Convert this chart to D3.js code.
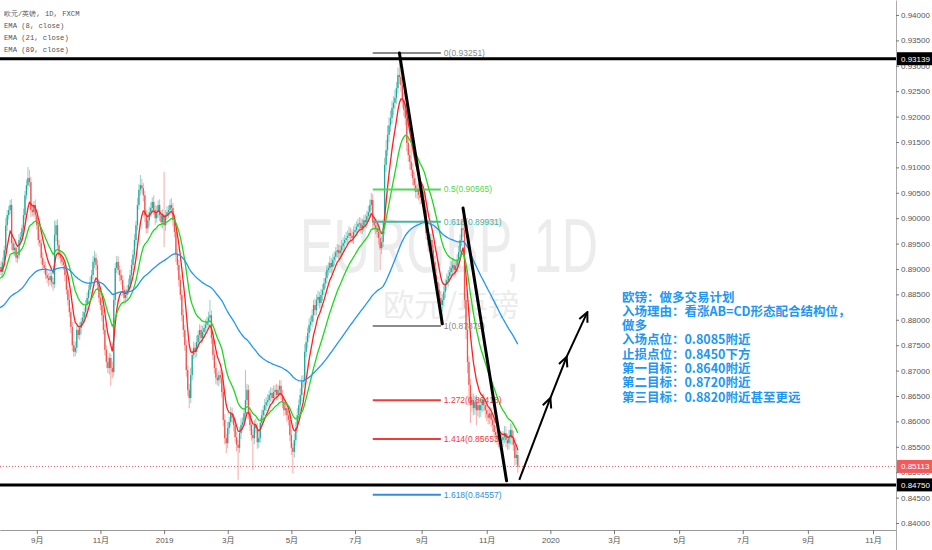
<!DOCTYPE html>
<html><head><meta charset="utf-8">
<script src="https://cdn.jsdelivr.net/npm/d3@7"></script>
<style>body{margin:0;background:#fff;}svg{display:block;}</style>
</head><body>
<svg id="c" width="932" height="550"></svg>
<script>
// ---------------- DATA ----------------
const startDate = "2018-07-30";
const firstOpen = 0.8898;
const closes = [
0.8904,0.8894,0.8913,0.8937,0.8986,0.9006,0.9016,0.9026,0.8951,0.8937,
0.8942,0.8922,0.8927,0.8957,0.8963,0.8980,0.9006,0.9045,0.9065,0.9079,
0.9071,0.9016,0.9012,0.9026,0.9006,0.8986,0.8957,0.8951,0.8922,0.8908,
0.8902,0.8888,0.8882,0.8878,0.8886,0.8874,0.8870,0.8967,0.8986,0.8947,
0.8928,0.8922,0.8914,0.8908,0.8888,0.8859,0.8839,0.8815,0.8786,0.8750,
0.8737,0.8745,0.8780,0.8770,0.8784,0.8796,0.8804,0.8815,0.8829,0.8843,
0.8859,0.8874,0.8888,0.8914,0.8922,0.8908,0.8869,0.8843,0.8829,0.8809,
0.8780,0.8741,0.8717,0.8705,0.8725,0.8705,0.8697,0.8839,0.8902,0.8914,
0.8898,0.8888,0.8878,0.8859,0.8843,0.8849,0.8859,0.8869,0.8888,0.8908,
0.8928,0.8957,0.8986,0.9026,0.9056,0.9065,0.9059,0.9045,0.9006,0.8980,
0.8996,0.9012,0.9020,0.9032,0.9016,0.9000,0.9012,0.9026,0.9006,0.8992,
0.9006,0.8986,0.9006,0.9012,0.9016,0.9026,0.9020,0.8996,0.8973,0.8928,
0.8908,0.8878,0.8849,0.8809,0.8780,0.8750,0.8701,0.8662,0.8646,0.8691,
0.8731,0.8745,0.8737,0.8756,0.8770,0.8780,0.8764,0.8776,0.8784,0.8790,
0.8796,0.8804,0.8809,0.8764,0.8731,0.8705,0.8686,0.8681,0.8691,0.8686,
0.8658,0.8603,0.8567,0.8557,0.8587,0.8599,0.8616,0.8607,0.8593,0.8569,
0.8554,0.8548,0.8577,0.8593,0.8599,0.8616,0.8642,0.8662,0.8618,0.8593,
0.8573,0.8567,0.8593,0.8587,0.8559,0.8567,0.8597,0.8612,0.8622,0.8632,
0.8638,0.8642,0.8652,0.8656,0.8646,0.8658,0.8662,0.8652,0.8662,0.8670,
0.8652,0.8638,0.8622,0.8626,0.8612,0.8603,0.8573,0.8548,0.8540,0.8563,
0.8587,0.8612,0.8632,0.8652,0.8678,0.8681,0.8737,0.8756,0.8774,0.8790,
0.8796,0.8809,0.8829,0.8819,0.8839,0.8845,0.8833,0.8849,0.8859,0.8872,
0.8882,0.8898,0.8902,0.8912,0.8904,0.8918,0.8924,0.8933,0.8937,0.8931,
0.8937,0.8945,0.8951,0.8957,0.8961,0.8965,0.8971,0.8965,0.8961,0.8973,
0.8977,0.8983,0.8989,0.8990,0.8980,0.8986,0.8996,0.8992,0.9004,0.9012,
0.9026,0.9036,0.8992,0.8986,0.8980,0.8973,0.8961,0.8941,0.8953,0.8980,
0.9105,0.9134,0.9164,0.9183,0.9197,0.9217,0.9227,0.9237,0.9256,0.9282,
0.9278,0.9262,0.9233,0.9213,0.9197,0.9148,0.9124,0.9111,0.9095,0.9079,
0.9065,0.9052,0.9056,0.9046,0.9040,0.9052,0.9036,0.9016,0.8971,0.8957,
0.8947,0.8957,0.8937,0.8914,0.8888,0.8874,0.8859,0.8843,0.8829,0.8839,
0.8855,0.8869,0.8878,0.8886,0.8894,0.8902,0.8908,0.8898,0.8906,0.8918,
0.8933,0.8957,0.8980,0.8977,0.8839,0.8780,0.8717,0.8672,0.8632,0.8642,
0.8626,0.8638,0.8622,0.8632,0.8622,0.8632,0.8642,0.8632,0.8622,0.8614,
0.8607,0.8616,0.8603,0.8593,0.8579,0.8573,0.8567,0.8563,0.8557,0.8563,
0.8569,0.8577,0.8563,0.8557,0.8569,0.8583,0.8567,0.8554,0.8528,0.8534,0.8511
];
const upperWickPips = [
8,12,10,9,14,10,8,10,12,7, 9,11,8,12,10,7,13,9,11,22, 16,10,12,8,11,9,10,12,8,11,
9,12,8,10,11,7,9,28,10,12, 10,8,12,9,11,10,8,12,9,10, 8,12,10,9,11,8,12,9,10,11,
9,11,10,12,14,9,10,8,12,10, 10,12,9,11,10,8,12,14,10,12, 11,9,12,10,8,11,9,12,10,11,
10,12,9,14,11,20,12,10,9,11, 12,10,11,9,13,10,12,9,11,10, 11,85,10,12,9,11,13,10,12,9,
12,10,11,9,12,10,11,9,12,15, 11,12,10,13,9,11,10,12,9,11, 10,12,30,9,11,10,12,10,9,11,
12,10,11,9,12,10,13,11,9,12, 11,10,12,13,9,11,59,12,10,11, 12,11,10,13,9,12,10,11,9,12,
10,12,9,11,10,13,9,12,10,11, 11,10,12,9,11,10,12,11,9,13, 12,14,11,13,12,10,15,12,11,13,
11,12,10,13,11,12,10,12,11,10, 12,10,11,13,10,12,11,10,12,11, 10,12,11,10,12,11,13,10,12,11,
12,11,10,12,11,13,10,12,11,12, 11,14,12,10,12,11,10,12,11,13, 14,20,18,16,15,14,13,16,12,14,
43,14,12,15,13,11,14,12,53,13, 12,14,11,13,12,14,11,13,12,14, 14,12,13,11,12,13,11,12,14,12,
12,11,13,12,11,13,12,10,12,11, 12,11,13,25,14,12,13,11,12,13, 13,12,14,11,13,12,11,13,12,14,
12,13,11,12,14,12,13,11,12,13, 12,14,13,12,15,13,12,14,13,12,11
];
const lowerWickPips = [
10,8,12,9,7,11,9,8,14,10, 12,9,10,8,11,9,7,10,8,9, 9,14,8,10,12,9,11,8,13,10,
11,8,10,12,9,10,13,8,12,9, 9,11,8,10,12,9,11,10,13,12, 10,9,11,8,10,12,9,11,8,10,
11,8,10,9,12,10,11,9,10,12, 9,11,12,10,13,35,12,9,11,10, 10,12,9,11,13,10,12,9,10,11,
11,9,12,10,9,11,10,12,14,10, 10,12,9,11,10,13,9,11,12,10, 12,43,11,9,12,10,11,12,10,14,
11,13,10,12,14,11,13,12,20,10, 10,9,12,10,11,13,10,9,12,10, 11,9,10,12,10,11,13,10,12,11,
11,13,12,19,10,12,9,11,13,10, 13,63,10,12,11,9,12,10,13,12, 11,63,12,10,13,11,9,12,10,11,
12,10,11,13,9,11,12,10,11,12, 10,12,11,10,13,11,12,14,42,11, 11,10,12,11,13,12,10,11,12,10,
12,10,13,11,10,12,11,10,12,11, 10,12,11,10,13,11,12,10,11,12, 11,10,12,11,10,12,11,13,10,12,
10,12,11,13,10,11,12,10,12,11, 12,11,13,10,12,11,13,43,12,10, 12,14,12,15,13,12,14,13,12,11,
14,13,15,12,14,16,13,15,12,14, 13,12,14,11,13,12,14,12,13,11, 12,13,11,14,12,13,15,12,41,13,
13,12,11,13,12,11,12,13,11,12, 11,13,12,14,16,18,22,40,35,14, 14,13,30,12,15,13,14,12,15,13,
13,12,14,13,12,15,13,14,12,13, 13,12,14,13,12,14,13,12,16,13,12
];
const emaPeriods = [8, 21, 89];
const emaSeeds = [0.8895, 0.8880, 0.8822];
const priceTicks = [0.840,0.845,0.850,0.855,0.860,0.865,0.870,0.875,0.880,0.885,0.890,0.895,0.900,0.905,0.910,0.915,0.920,0.925,0.930,0.935,0.940];
const monthTicks = ["2018-09","2018-11","2019-01","2019-03","2019-05","2019-07","2019-09","2019-11","2020-01","2020-03","2020-05","2020-07","2020-09","2020-11"];
const monthTickLabels = ["9月","11月","2019","3月","5月","7月","9月","11月","2020","3月","5月","7月","9月","11月"];
const keyLevels = [0.93139, 0.84750];
const lastPrice = 0.85113;
const fibLevels = ["0","0.5","0.618","1","1.272","1.414","1.618"];
const fibPrices = [0.93251,0.90565,0.89931,0.87879,0.86418,0.85653,0.84557];
const fibBars = [252, 298];
const trendLines = [[[270,0.9325],[299,0.8792]], [[313,0.9020],[342.4,0.8483]]];
const arrowPath = [[351,0.8485],[372,0.8646],[383,0.8727],[397,0.8815]];
const legendLines = ["欧元/英镑, 1D, FXCM","EMA (8, close)","EMA (21, close)","EMA (89, close)"];
const planLines = ["欧镑：做多交易计划","入场理由：看涨AB=CD形态配合结构位，","做多","入场点位：0.8085附近","止损点位：0.8450下方","第一目标：0.8640附近","第二目标：0.8720附近","第三目标：0.8820附近甚至更远"];
const planAnchor = [420.4, 0.88360];
const totalBars = 606;

// ---------------- STYLE ----------------
const W = 932, H = 550, plotR = 896, plotB = 530;
const upCol = "#26a69a", dnCol = "#ef5350";
const emaCols = ["#ff2020", "#1ed81e", "#2196f3"];
const fibCols = ["#8a8a8a","#55d455","#48b4a4","#8a8a8a","#f23a3a","#f23a3a","#2d8fe0"];

const svg = d3.select("#c");
const x = d3.scaleLinear().domain([0, 605.54]).range([-0.2, plotR]);
const y = d3.scaleLinear().domain([0.83862, 0.94295]).range([plotB, 0]);

// dates of bars (weekdays)
const dates = [];
{ let d = new Date(startDate + "T00:00:00Z");
  while (dates.length < totalBars) { const wd = d.getUTCDay(); if (wd !== 0 && wd !== 6) dates.push(new Date(d)); d.setUTCDate(d.getUTCDate() + 1); } }
const fmtYM = d3.utcFormat("%Y-%m");
const tickBars = monthTicks.map(m => dates.findIndex(dt => fmtYM(dt) === m));

// watermark
const wm = svg.append("g").attr("fill", "#ececec").attr("font-family", "Liberation Sans, Arial, sans-serif").attr("text-anchor", "middle");
wm.append("text").attr("x", 449).attr("y", 272).attr("font-size", 76).attr("textLength", 298).attr("lengthAdjust", "spacingAndGlyphs").text("EURGBP, 1D");
wm.append("text").attr("x", 451).attr("y", 316).attr("font-size", 31).attr("font-family", "Noto Sans CJK SC").text("欧元/英镑");

// candles
const ohlc = closes.map((c, i) => {
  const o = i ? closes[i - 1] : firstOpen;
  return { i, o, c, h: Math.max(o, c) + upperWickPips[i] / 10000, l: Math.min(o, c) - lowerWickPips[i] / 10000 };
});
const cg = svg.append("g");
cg.selectAll("line.w").data(ohlc).join("line").attr("class", "w")
  .attr("x1", d => x(d.i)).attr("x2", d => x(d.i)).attr("y1", d => y(d.h)).attr("y2", d => y(d.l))
  .attr("stroke", d => d.c >= d.o ? upCol : dnCol).attr("stroke-opacity", 0.5).attr("stroke-width", 1);
cg.selectAll("rect.b").data(ohlc).join("rect").attr("class", "b")
  .attr("x", d => x(d.i) - 0.65).attr("width", 1.3)
  .attr("y", d => y(Math.max(d.o, d.c))).attr("height", d => Math.max(1, Math.abs(y(d.o) - y(d.c))))
  .attr("fill", d => d.c >= d.o ? upCol : dnCol);

// EMAs
function ema(vals, n, seed) { const k = 2 / (n + 1); let e = seed; return vals.map(v => (e = v * k + e * (1 - k))); }
const line = d3.line().x((d, i) => x(i)).y(d => y(d));
emaPeriods.forEach((n, k) => {
  svg.append("path").attr("d", line(ema(closes, n, emaSeeds[k]))).attr("fill", "none")
    .attr("stroke", emaCols[k]).attr("stroke-width", 1.3);
});

// current price dotted line
svg.append("line").attr("x1", 0).attr("x2", plotR).attr("y1", y(lastPrice)).attr("y2", y(lastPrice))
  .attr("stroke", "#f23645").attr("stroke-dasharray", "1,2").attr("stroke-width", 1).attr("stroke-opacity", 0.8);

// fib retracement
const fx0 = x(fibBars[0]), fx1 = x(fibBars[1]);
const fg = svg.append("g").attr("font-family", "Liberation Sans, Arial, sans-serif").attr("font-size", 8.5);
fibPrices.forEach((p, k) => {
  fg.append("line").attr("x1", fx0).attr("x2", fx1).attr("y1", y(p)).attr("y2", y(p)).attr("stroke", fibCols[k]).attr("stroke-width", 2);
  fg.append("text").attr("x", fx1 + 3).attr("y", y(p) + 3).attr("fill", fibCols[k]).text(fibLevels[k] + "(" + p.toFixed(5) + ")");
});

// key horizontal levels
keyLevels.forEach(p => {
  svg.append("line").attr("x1", 0).attr("x2", plotR).attr("y1", y(p)).attr("y2", y(p)).attr("stroke", "#000").attr("stroke-width", 3);
});

// trend lines
trendLines.forEach(tl => {
  svg.append("line").attr("x1", x(tl[0][0])).attr("y1", y(tl[0][1])).attr("x2", x(tl[1][0])).attr("y2", y(tl[1][1]))
    .attr("stroke", "#000").attr("stroke-width", 3).attr("stroke-linecap", "round");
});

// arrows
const defs = svg.append("defs");
defs.append("marker").attr("id", "ah").attr("viewBox", "0 0 12 12").attr("refX", 10.5).attr("refY", 6)
  .attr("markerWidth", 12).attr("markerHeight", 12).attr("markerUnits", "userSpaceOnUse").attr("orient", "auto")
  .append("path").attr("d", "M1,1.5 L10.5,6 L1,10.5").attr("fill", "none").attr("stroke", "#000").attr("stroke-width", 2);
for (let k = 0; k < arrowPath.length - 1; k++) {
  svg.append("line").attr("x1", x(arrowPath[k][0])).attr("y1", y(arrowPath[k][1]))
    .attr("x2", x(arrowPath[k + 1][0])).attr("y2", y(arrowPath[k + 1][1]))
    .attr("stroke", "#000").attr("stroke-width", 2).attr("marker-end", "url(#ah)");
}

// plan text
const pt = svg.append("text").attr("font-family", "Noto Sans CJK SC, sans-serif").attr("font-weight", "bold")
  .attr("font-size", 12.5).attr("fill", "#2196f3");
planLines.forEach((s, k) => {
  pt.append("tspan").attr("x", x(planAnchor[0])).attr("y", y(planAnchor[1]) + k * 14.3).text(s);
});

// legend
const lg = svg.append("g").attr("font-family", "Liberation Mono, DejaVu Sans Mono, monospace").attr("font-size", 7.2).attr("fill", "#555");
legendLines.forEach((s, k) => lg.append("text").attr("x", 4).attr("y", 16 + k * 12).text(s));

// axes
const ay = svg.append("g").attr("transform", `translate(${plotR},0)`)
  .call(d3.axisRight(y).tickValues(priceTicks).tickFormat(d3.format(".5f")).tickSize(3).tickSizeOuter(0));
ay.selectAll("text").attr("font-family", "Liberation Sans, Arial, sans-serif").attr("font-size", 8).attr("fill", "#555").attr("x", 5);
ay.selectAll(".tick line").attr("stroke", "#777");
ay.select(".domain").attr("stroke", "#aaa");
svg.append("line").attr("x1", plotR + 0.5).attr("x2", plotR + 0.5).attr("y1", plotB).attr("y2", H).attr("stroke", "#aaa");

const ax = svg.append("g").attr("transform", `translate(0,${plotB})`)
  .call(d3.axisBottom(x).tickValues(tickBars).tickFormat((d, i) => monthTickLabels[i]).tickSize(4).tickSizeOuter(0));
ax.selectAll("text").attr("font-family", "Liberation Sans, Noto Sans CJK SC, sans-serif").attr("font-size", 8).attr("fill", "#555").attr("y", 7);
ax.selectAll(".tick line").attr("stroke", "#777");
ax.select(".domain").attr("stroke", "#999");

// price labels on axis
const lbls = [[keyLevels[0], "#000"], [lastPrice, "#f55a5a"], [keyLevels[1], "#000"]];
lbls.forEach(([p, col]) => {
  svg.append("rect").attr("x", plotR + 1).attr("y", y(p) - 6.5).attr("width", W - plotR - 1).attr("height", 13).attr("fill", col);
  svg.append("text").attr("x", plotR + 5).attr("y", y(p) + 3).attr("fill", "#fff").attr("font-size", 8)
    .attr("font-family", "Liberation Sans, Arial, sans-serif").text(p.toFixed(5));
});
</script>
</body></html>
